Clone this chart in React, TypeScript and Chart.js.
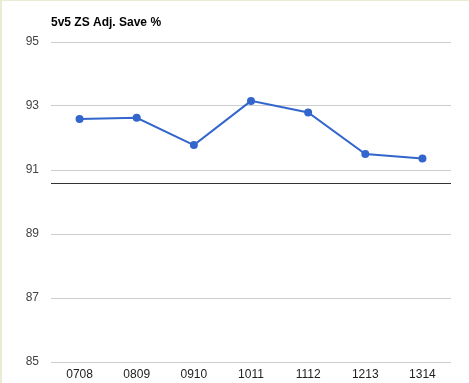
import React, { useEffect, useRef } from "react";
import { Chart, registerables } from "chart.js";

Chart.register(...registerables);

const TITLE = "5v5 ZS Adj. Save %";
const SEASONS = ["0708", "0809", "0910", "1011", "1112", "1213", "1314"];
const SAVE_PCT = [92.59, 92.63, 91.78, 93.16, 92.8, 91.5, 91.36];
const Y_MIN = 85;
const Y_MAX = 95;
const Y_STEP = 2;
const BASELINE = 90.59;

export default function App() {
  const ref = useRef<HTMLCanvasElement | null>(null);

  useEffect(() => {
    document.body.style.margin = "0";
    const canvas = ref.current;
    if (!canvas) return;

    const overlay = {
      id: "overlay",
      afterDatasetsDraw(chart: any) {
        // draw baseline below points? drawn here before points is fine too
      },
      beforeDatasetsDraw(chart: any) {
        const { ctx, chartArea, scales } = chart;
        const y = Math.round(scales.y.getPixelForValue(BASELINE)) + 0.5;
        ctx.save();
        ctx.strokeStyle = "#333333";
        ctx.lineWidth = 1;
        ctx.beginPath();
        ctx.moveTo(chartArea.left, y);
        ctx.lineTo(chartArea.right, y);
        ctx.stroke();
        ctx.restore();
      },
      afterDraw(chart: any) {
        const { ctx, chartArea } = chart;
        ctx.save();
        ctx.font = "bold 12px Arial, 'Liberation Sans', sans-serif";
        ctx.fillStyle = "#000000";
        ctx.textAlign = "left";
        ctx.textBaseline = "alphabetic";
        ctx.fillText(TITLE, chartArea.left, 26);
        ctx.restore();
      },
    };

    const chart = new Chart(canvas, {
      type: "line",
      data: {
        labels: SEASONS,
        datasets: [
          {
            label: TITLE,
            data: SAVE_PCT,
            borderColor: "#3366cc",
            backgroundColor: "#3366cc",
            borderWidth: 2,
            pointRadius: 4,
            pointHoverRadius: 4,
            pointBorderWidth: 0,
            tension: 0,
          },
        ],
      },
      options: {
        animation: false,
        responsive: false,
        maintainAspectRatio: false,
        layout: { padding: { top: 42, right: 18, bottom: 0, left: 0 } },
        plugins: {
          legend: { display: false },
          title: { display: false },
          tooltip: { enabled: false },
        },
        scales: {
          x: {
            offset: true,
            grid: { display: false, drawTicks: false },
            border: { display: false },
            ticks: {
              color: "#222222",
              font: { family: "Arial, 'Liberation Sans', sans-serif", size: 12 },
              padding: 5,
              maxRotation: 0,
              autoSkip: false,
            },
            afterFit: (s: any) => {
              s.height = 21;
            },
          },
          y: {
            min: Y_MIN,
            max: Y_MAX,
            grid: { color: "#cccccc", drawTicks: false, lineWidth: 1 },
            border: { display: false },
            ticks: {
              stepSize: Y_STEP,
              color: "#444444",
              font: { family: "Arial, 'Liberation Sans', sans-serif", size: 12 },
              padding: 12,
            },
            afterFit: (s: any) => {
              s.width = 51;
            },
          },
        },
      },
      plugins: [overlay],
    });

    return () => chart.destroy();
  }, []);

  return (
    <div style={{ position: "fixed", left: 0, top: 0, width: 469, height: 383, background: "#ffffff" }}>
      <canvas ref={ref} width={469} height={383} style={{ display: "block", width: 469, height: 383 }} />
      <div style={{ position: "absolute", left: 0, top: 0, width: 469, height: 1, background: "#e9ecd3", pointerEvents: "none" }} />
      <div style={{ position: "absolute", left: 0, top: 0, width: 2, height: 383, background: "#e9ecd3", pointerEvents: "none" }} />
    </div>
  );
}
